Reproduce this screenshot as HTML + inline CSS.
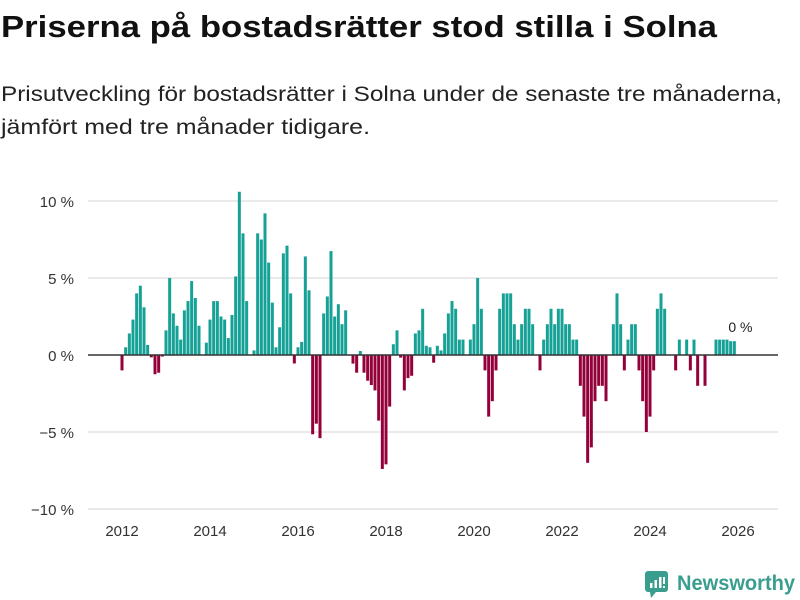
<!DOCTYPE html>
<html><head><meta charset="utf-8"><style>
body{margin:0;background:#fff;}
svg{display:block;font-family:"Liberation Sans",sans-serif;}
</style></head><body>
<svg id="chart" width="800" height="600" viewBox="0 0 800 600">
<text x="1" y="37" font-size="31" font-weight="bold" fill="#111" textLength="716" lengthAdjust="spacingAndGlyphs">Priserna på bostadsrätter stod stilla i Solna</text>
<text x="1" y="101" font-size="21" fill="#222" textLength="781" lengthAdjust="spacingAndGlyphs">Prisutveckling för bostadsrätter i Solna under de senaste tre månaderna,</text>
<text x="1" y="134" font-size="21" fill="#222" textLength="369" lengthAdjust="spacingAndGlyphs">jämfört med tre månader tidigare.</text>
<g id="grid"></g>
<g id="bars"></g>
<g id="axes"></g>
<g>
<rect x="645" y="571" width="23" height="21" rx="3" fill="#3a9e8f"/>
<polygon points="650,592 656,592 651,598" fill="#3a9e8f"/>
<rect x="650" y="583" width="2.5" height="5" fill="#fff"/><rect x="654.5" y="580" width="2.5" height="8" fill="#fff"/><rect x="659" y="577" width="2.5" height="11" fill="#fff"/><rect x="663" y="577" width="2" height="7" fill="#fff"/><rect x="663" y="586" width="2" height="2" fill="#fff"/>
<text x="677" y="590" font-size="21" font-weight="bold" fill="#3a9e8f" textLength="118" lengthAdjust="spacingAndGlyphs">Newsworthy</text>
</g>
</svg>
<script>
const startYear = 2012;
const values = [
-1,0.5,1.4,2.3,4.0,4.5,3.1,0.65,-0.15,-1.25,-1.15,-0.1,
1.6,5.0,2.7,1.9,1.0,2.9,3.5,4.8,3.7,1.9,0,0.8,
2.3,3.5,3.5,2.5,2.3,1.1,2.6,5.1,10.6,7.9,3.5,0,
0.3,7.9,7.5,9.2,6.0,3.4,0.5,1.8,6.6,7.1,4.0,-0.55,
0.5,0.85,6.4,4.2,-5.15,-4.46,-5.4,2.7,3.8,6.75,2.5,3.3,
2.0,2.9,0,-0.56,-1.15,0.26,-1.15,-1.67,-1.95,-2.3,-4.26,-7.4,
-7.1,-3.35,0.7,1.6,-0.17,-2.3,-1.5,-1.35,
1.4,1.6,3.0,0.6,0.5,-0.5,0.6,0.3,1.4,2.7,3.5,3.0,1.0,1.0,0,1.0,2.0,5.0,3.0,-1,-4,-3,-1,3,4,4,4,2,1,2,3,3,2,0,-1,1,2,3,2,3,3,2,2,1,1,
-2,-4,-7,-6,-3,-2,-2,-3,0,2,4,2,-1,1,2,2,-1,-3,-5,-4,-1,3,4,3,0,0,-1,1,0,1,-1,1,-2,0,-2,0,0,1,1,1,1,0.9,0.9
];
const yTicks = [10,5,0,-5,-10];
const yTickLabels = ["10 %","5 %","0 %","−5 %","−10 %"];
const xTicks = [2012,2014,2016,2018,2020,2022,2024,2026];
const lastLabel = "0 %";

const NS="http://www.w3.org/2000/svg";
function x(t){return 122+(t-2012)*(616/14);}
function y(v){return 355-v*15.4;}
function mk(tag,attrs,parent){const e=document.createElementNS(NS,tag);for(const k in attrs)e.setAttribute(k,attrs[k]);parent.appendChild(e);return e;}
const grid=document.getElementById('grid'),bars=document.getElementById('bars'),axes=document.getElementById('axes');
yTicks.forEach((v,i)=>{
  if(v!==0){const l=mk('line',{x1:88,x2:778,y1:y(v),y2:y(v),stroke:'#e3e3e3','stroke-width':1.5},grid);
  
  }
  const t=mk('text',{x:74,y:y(v)+6,'text-anchor':'end','font-size':15,fill:'#333'},axes);
  t.textContent=yTickLabels[i];
  
  
});
values.forEach((v,i)=>{
  const cx=x(startYear+i/12);
  const r=mk('rect',{x:cx-1.5,width:3,y:Math.min(y(v),y(0)),height:Math.abs(y(v)-y(0)),fill:v>=0?'#16a196':'#93003a'},bars);
  
  
});
const z=mk('line',{x1:88,x2:778,y1:y(0),y2:y(0),stroke:'#333','stroke-width':1.5},axes);


xTicks.forEach(t=>{
  const l=mk('text',{x:x(t),y:536,'text-anchor':'middle','font-size':15,fill:'#333'},axes);
  l.textContent=t;
  
  
});
const lv=values[values.length-1];
const ll=mk('text',{x:x(startYear+(values.length-1)/12)-6,y:y(lv)-9,'font-size':14,fill:'#222'},axes);
ll.textContent=lastLabel;


</script>
</body></html>
